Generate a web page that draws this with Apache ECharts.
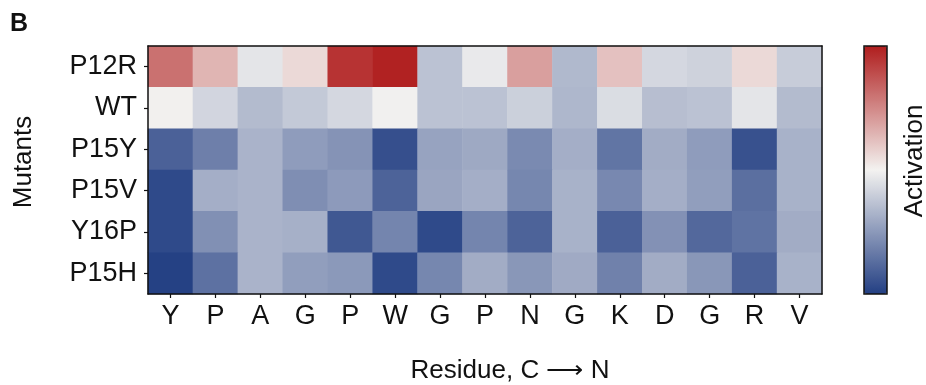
<!DOCTYPE html>
<html>
<head>
<meta charset="utf-8">
<script src="https://cdn.jsdelivr.net/npm/echarts@6/dist/echarts.min.js"></script>
<style>
  html, body { margin: 0; padding: 0; background: #fff; }
  #chart { width: 926px; height: 385px; }
</style>
</head>
<body>
<div id="chart"></div>
<script>
// Residues along the peptide, read C-terminus to N-terminus
const residues = ['Y', 'P', 'A', 'G', 'P', 'W', 'G', 'P', 'N', 'G', 'K', 'D', 'G', 'R', 'V'];
// Mutants, top row first
const mutants = ['P12R', 'WT', 'P15Y', 'P15V', 'Y16P', 'P15H'];

// Relative activation per residue (scale -1 .. 1)
const actP12R = [0.61, 0.29, -0.07, 0.12, 0.90, 0.98, -0.27, -0.05, 0.39, -0.32, 0.23, -0.15, -0.18, 0.12, -0.21];
const actWT   = [0.01, -0.16, -0.31, -0.23, -0.15, -0.01, -0.27, -0.27, -0.19, -0.33, -0.12, -0.29, -0.27, -0.07, -0.31];
const actP15Y = [-0.81, -0.64, -0.35, -0.48, -0.53, -0.91, -0.44, -0.41, -0.58, -0.38, -0.70, -0.39, -0.48, -0.90, -0.36];
const actP15V = [-0.94, -0.38, -0.35, -0.56, -0.49, -0.80, -0.43, -0.38, -0.60, -0.36, -0.59, -0.38, -0.47, -0.73, -0.36];
const actY16P = [-0.94, -0.55, -0.35, -0.37, -0.86, -0.61, -0.94, -0.61, -0.80, -0.36, -0.81, -0.54, -0.77, -0.71, -0.39];
const actP15H = [-0.99, -0.72, -0.35, -0.47, -0.50, -0.94, -0.60, -0.39, -0.51, -0.40, -0.63, -0.39, -0.51, -0.81, -0.36];

const rows = [actP12R, actWT, actP15Y, actP15V, actY16P, actP15H];

// [x index, y index, value] triples for the heatmap
const cells = [];
rows.forEach((vals, r) => {
  vals.forEach((v, c) => cells.push([c, r, v]));
});

const FONT = '"Liberation Sans", Arial, Helvetica, sans-serif';
const INK = '#111';

// Layout of the plot box and the colour bar
const GRID = { left: 148, top: 46, width: 674, height: 248 };
const BAR = { left: 864, top: 46, width: 23, height: 248 };

const chart = echarts.init(document.getElementById('chart'), null, { renderer: 'canvas' });

const frameAxis = {
  show: true,
  z: 10,
  axisLine: { show: true, lineStyle: { color: INK, width: 1.5 } },
  axisTick: { show: false },
  axisLabel: { show: false },
  splitLine: { show: false }
};

chart.setOption({
  animation: false,
  backgroundColor: '#fff',
  grid: {
    left: GRID.left, top: GRID.top, width: GRID.width, height: GRID.height,
    outerBoundsMode: 'none', containLabel: false
  },
  xAxis: [
    {
      type: 'category',
      data: residues,
      position: 'bottom',
      z: 10,
      axisLine: { show: true, lineStyle: { color: INK, width: 1.5 } },
      axisTick: { show: true, alignWithLabel: true, length: 4, lineStyle: { color: INK, width: 1.2 } },
      axisLabel: { fontFamily: FONT, fontSize: 27, color: INK, margin: 9 },
      splitLine: { show: false }
    },
    Object.assign({ type: 'category', data: residues, position: 'top' }, frameAxis)
  ],
  yAxis: [
    {
      type: 'category',
      data: mutants,
      inverse: true,
      position: 'left',
      z: 10,
      axisLine: { show: true, lineStyle: { color: INK, width: 1.5 } },
      axisTick: { show: true, alignWithLabel: true, length: 4, lineStyle: { color: INK, width: 1.2 } },
      axisLabel: { fontFamily: FONT, fontSize: 27, color: INK, margin: 11 },
      splitLine: { show: false }
    },
    Object.assign({ type: 'category', data: mutants, inverse: true, position: 'right' }, frameAxis)
  ],
  visualMap: {
    type: 'continuous',
    min: -1,
    max: 1,
    calculable: false,
    hoverLink: false,
    showLabel: false,
    text: null,
    orient: 'vertical',
    left: BAR.left,
    top: BAR.top,
    itemWidth: BAR.width,
    itemHeight: BAR.height,
    padding: 0,
    seriesIndex: 0,
    inRange: { color: ['#233f83', '#f3f2f0', '#b01e1e'] }
  },
  graphic: [
    {
      // outline of the colour bar
      type: 'rect',
      z: 100,
      shape: { x: BAR.left, y: BAR.top, width: BAR.width, height: BAR.height },
      style: { fill: null, stroke: INK, lineWidth: 1.5 }
    },
    {
      type: 'text',
      z: 100,
      x: 10, y: 24,
      style: { text: 'B', font: 'bold 25px ' + FONT, fill: INK, textAlign: 'left', textVerticalAlign: 'middle' }
    },
    {
      type: 'text',
      z: 100,
      x: 510, y: 371,
      style: { text: 'Residue, C \u27F6 N', font: '26px ' + FONT, fill: INK, textAlign: 'center', textVerticalAlign: 'middle' }
    },
    {
      type: 'text',
      z: 100,
      x: 24, y: 162,
      rotation: Math.PI / 2,
      style: { text: 'Mutants', font: '26px ' + FONT, fill: INK, textAlign: 'center', textVerticalAlign: 'middle' }
    },
    {
      type: 'text',
      z: 100,
      x: 915, y: 161,
      rotation: Math.PI / 2,
      style: { text: 'Activation', font: '26px ' + FONT, fill: INK, textAlign: 'center', textVerticalAlign: 'middle' }
    }
  ],
  series: [{
    type: 'heatmap',
    xAxisIndex: 0,
    yAxisIndex: 0,
    data: cells,
    itemStyle: { borderWidth: 0 },
    emphasis: { disabled: true }
  }]
});
</script>
</body>
</html>
